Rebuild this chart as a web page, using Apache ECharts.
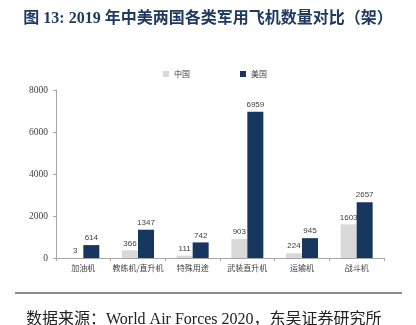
<!DOCTYPE html>
<html>
<head>
<meta charset="utf-8">
<script src="https://cdn.jsdelivr.net/npm/echarts@6/dist/echarts.min.js"></script>
<style>
  html, body { margin: 0; padding: 0; background: #fff; }
  #chart { width: 416px; height: 325px; }
</style>
</head>
<body>
<div id="chart"></div>
<script>
// Aircraft categories and fleet counts, 2019
const categories = ['加油机', '教练机/直升机', '特殊用途', '武装直升机', '运输机', '战斗机'];
const chinaCounts = [3, 366, 111, 903, 224, 1603];
const usCounts = [614, 1347, 742, 6959, 945, 2657];
const yTicks = [0, 2000, 4000, 6000, 8000];

const titleText = '图 13: 2019 年中美两国各类军用飞机数量对比（架）';
const sourceText = '数据来源：World Air Forces 2020，东吴证券研究所';

const chart = echarts.init(document.getElementById('chart'), null, { renderer: 'canvas' });

const valueLabel = {
  show: true,
  position: 'top',
  distance: 3,
  fontFamily: 'Liberation Sans, Arial, sans-serif',
  fontSize: 8,
  color: '#404040'
};

chart.setOption({
  animation: false,
  backgroundColor: '#fff',
  graphic: [
    {
      type: 'text',
      left: 'center',
      top: 11,
      style: {
        text: titleText,
        font: 'bold 16px "Liberation Serif", "Noto Sans CJK SC", serif',
        fill: '#1f3a60'
      }
    },
    {
      type: 'rect',
      shape: { x: 15, y: 292, width: 387, height: 2 },
      style: { fill: '#8c8c8c' }
    },
    {
      type: 'text',
      left: 26,
      top: 312,
      style: {
        text: sourceText,
        font: '16px "Liberation Serif", "Noto Sans CJK SC", serif',
        fill: '#222'
      }
    }
  ],
  legend: {
    left: 163,
    top: 70,
    padding: 0,
    itemWidth: 6,
    itemHeight: 6,
    itemGap: 50,
    icon: 'rect',
    textStyle: { fontSize: 8, color: '#404040', fontFamily: 'Noto Sans CJK SC' },
    data: ['中国', '美国']
  },
  grid: { left: 56, right: 32, top: 90, bottom: 67, containLabel: false },
  xAxis: {
    type: 'category',
    data: categories,
    axisLine: { lineStyle: { color: '#a6a6a6', width: 1 } },
    axisTick: { show: true, length: 3, lineStyle: { color: '#a6a6a6' } },
    axisLabel: {
      interval: 0,
      fontSize: 8,
      color: '#404040',
      margin: 6,
      fontFamily: 'Noto Sans CJK SC'
    }
  },
  yAxis: {
    type: 'value',
    min: yTicks[0],
    max: yTicks[yTicks.length - 1],
    interval: yTicks[1] - yTicks[0],
    axisLine: { show: true, lineStyle: { color: '#a6a6a6', width: 1 } },
    axisTick: { show: true, length: 3, lineStyle: { color: '#a6a6a6' } },
    splitLine: { show: false },
    axisLabel: {
      formatter: (v) => String(v),
      fontSize: 9.5,
      color: '#404040',
      margin: 8,
      fontFamily: 'Liberation Serif, Times New Roman, serif'
    }
  },
  series: [
    {
      name: '中国',
      type: 'bar',
      data: chinaCounts,
      barWidth: 16,
      barGap: '0%',
      itemStyle: { color: '#d9d9d9' },
      label: valueLabel
    },
    {
      name: '美国',
      type: 'bar',
      data: usCounts,
      barWidth: 16,
      barGap: '0%',
      itemStyle: { color: '#17375e' },
      label: valueLabel
    }
  ]
});
</script>
</body>
</html>
